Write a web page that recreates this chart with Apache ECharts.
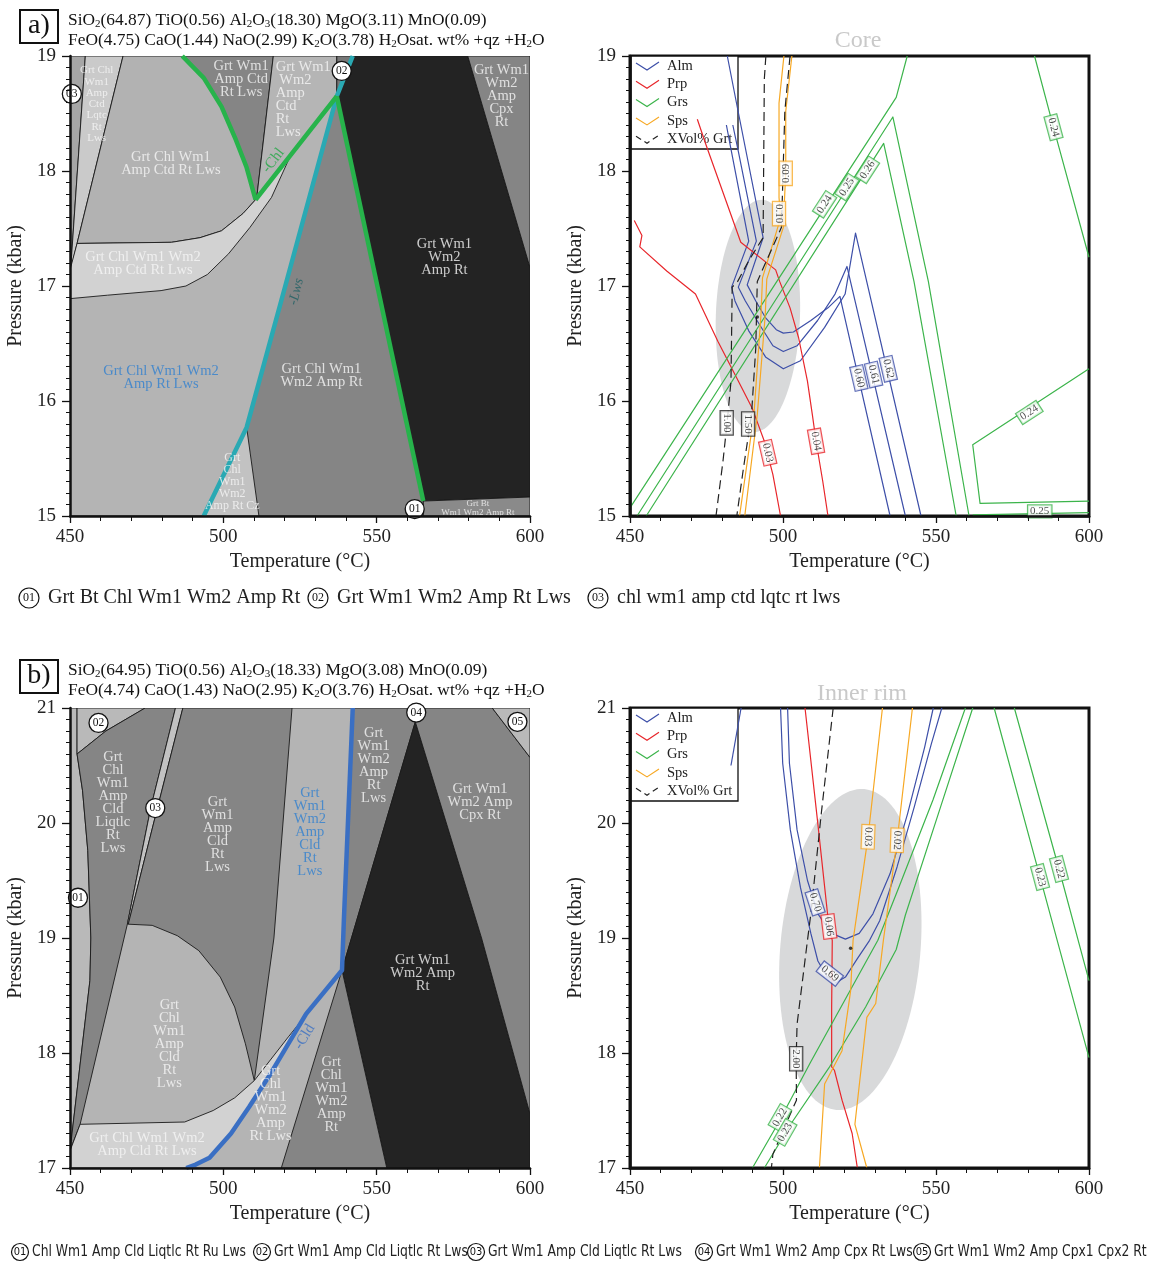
<!DOCTYPE html>
<html><head><meta charset="utf-8">
<script src="https://cdn.jsdelivr.net/npm/echarts@6/dist/echarts.min.js"></script>
<style>html,body{margin:0;padding:0;background:#fff}#c{width:1150px;height:1264px}</style>
</head><body><div id="c"></div>
<script>
// ================= DATA =================
const tempRange = [450, 600];
const presRanges = [[15, 19], [15, 19], [17, 21], [17, 21]];

// ---- Panel a) phase fields [T, P] ----
const fA_bg    = [[450,15],[600,15],[600,19],[450,19]];
const fA_03    = [[450,19],[455.0,19],[450.2,17.14],[450,17.14]];
const fA_lqtc  = [[455.0,19],[467.3,19],[452.3,17.37],[450.2,17.14]];
const fA_chlCtd= [[467.3,19],[486.6,19],[493.6,18.81],[499.4,18.56],[504.1,18.27],[507.6,18.03],[510.5,17.75],[506.4,17.63],[499.4,17.48],[492.4,17.42],[483.1,17.38],[452.3,17.37]];
const fA_wm1Ctd= [[486.6,19],[516.3,19],[510.9,17.77],[510.5,17.75],[507.6,18.03],[504.1,18.27],[499.4,18.56],[493.6,18.81]];
const fA_wm2Ctd= [[516.3,19],[537,19],[537,18.65],[522,18.14],[510.5,17.75],[510.9,17.77]];
const fA_light = [[450,17.14],[452.3,17.37],[483.1,17.38],[492.4,17.42],[499.4,17.48],[506.4,17.63],[510.5,17.75],[522,18.14],[515.7,17.77],[508.7,17.51],[501.7,17.28],[494.8,17.10],[487.8,17.0],[479.7,16.96],[462.2,16.92],[450,16.89]];
const fA_02    = [[537,19],[542.2,19],[537,18.65]];
const fA_amp   = [[537,18.65],[565.2,15.13],[565.2,15],[493.6,15],[507.6,15.77],[520.2,17.0]];
const fA_cz    = [[507.6,15.77],[511.6,15],[493.6,15]];
const fA_black = [[542.2,19],[579.7,19],[600,17.16],[600,15.165],[565.2,15.13],[537,18.65]];
const fA_cpx   = [[579.7,19],[600,19],[600,17.16]];
const fA_bt    = [[565.2,15.13],[600,15.165],[600,15],[565.2,15]];
const fieldsA = [fA_bg,fA_03,fA_lqtc,fA_chlCtd,fA_wm1Ctd,fA_wm2Ctd,fA_light,fA_02,fA_amp,fA_cz,fA_black,fA_cpx,fA_bt];

// ---- Panel a) reaction lines ----
const aGreenL   = [[486.6,19],[493.6,18.81],[499.4,18.56],[504.1,18.27],[507.6,18.03],[510.5,17.75]];
const aGreenChl = [[510.5,17.75],[522,18.14],[537,18.65]];
const aGreenR   = [[537,18.65],[565.2,15.13]];
const aCyan     = [[542.2,19],[537,18.65],[520.2,17.0],[507.6,15.77],[493.6,15.0]];

// ---- Panel a) field labels [T, P, text] ----
const labA = [
  [458.7,18.58,'Grt Chl\nWm1\nAmp\nCtd\nLqtc\nRt\nLws'],
  [505.8,18.80,'Grt Wm1\nAmp Ctd\nRt Lws'],
  [516.9,18.62,'Grt Wm1\n Wm2\nAmp\nCtd\nRt\nLws'],
  [482.9,18.06,'Grt Chl Wm1\nAmp Ctd Rt Lws'],
  [590.7,18.65,'Grt Wm1\nWm2\nAmp\nCpx\nRt'],
  [473.8,17.19,'Grt Chl Wm1 Wm2\nAmp Ctd Rt Lws'],
  [572.1,17.25,'Grt Wm1\nWm2\nAmp Rt'],
  [479.7,16.20,'Grt Chl Wm1 Wm2\nAmp Rt Lws'],
  [532.0,16.22,'Grt Chl Wm1\nWm2 Amp Rt'],
  [502.9,15.30,'Grt\nChl\nWm1\nWm2\nAmp Rt Cz'],
  [583.0,15.07,'Grt Bt\nWm1 Wm2 Amp Rt'],
  [516.3,18.09,'-Chl'],
  [523.8,16.95,'-Lws']
];
const circA = [[562.4,15.06,'01'],[538.6,18.87,'02'],[450.6,18.67,'03']];

// ---- Panel b) phase fields ----
const fB_bg    = [[450,17],[600,17],[600,21],[450,21]];
const fB_01    = [[450,21],[452.3,21],[452.3,20.6],[454.1,20.28],[455.8,19.76],[456.8,19.0],[456.5,18.63],[450,17.15]];
const fB_02    = [[452.3,21],[474.5,21],[461.7,20.8],[452.3,20.6]];
const fB_liq   = [[452.3,20.6],[461.7,20.8],[474.5,21],[484.4,21],[476.4,20.14],[468.7,19.12],[453.3,17.38],[450,17.15],[456.5,18.63],[456.8,19.0],[455.8,19.76],[454.1,20.28]];
const fB_03    = [[484.4,21],[486.8,21],[478.6,20.14],[469,19.12],[468.7,19.12],[476.4,20.14]];
const fB_wm1   = [[486.8,21],[522.4,21],[516.5,19.0],[510.1,17.76],[507.2,18.08],[503.7,18.40],[499.0,18.66],[492.0,18.89],[485.0,19.02],[476.8,19.11],[469,19.12],[478.6,20.14]];
const fB_light = [[450,17.15],[453.3,17.38],[487.4,17.40],[496.7,17.5],[503.7,17.61],[510.1,17.76],[521.2,18.14],[538.7,18.72],[527.0,18.34],[515.4,17.82],[508.4,17.53],[502.5,17.30],[495.5,17.09],[487.9,17.0],[450,17]];
const fB_lws   = [[542.2,21],[562.6,21],[562.6,20.88],[538.7,18.72],[539.3,19.15]];
const fB_black = [[562.6,20.88],[584.2,19.0],[600,17.47],[600,17],[553.3,17],[538.7,18.72]];
const fB_amp   = [[538.7,18.72],[553.3,17],[518.9,17]];
const fB_cpx   = [[562.6,21],[587.7,21],[600,20.57],[600,17.47],[584.2,19.0],[562.6,20.88]];
const fB_05    = [[587.7,21],[600,21],[600,20.57]];
const fieldsB = [fB_bg,fB_01,fB_02,fB_liq,fB_03,fB_wm1,fB_light,fB_lws,fB_black,fB_amp,fB_cpx,fB_05];

const bBlue = [[542.2,21],[539.3,19.15],[538.7,18.72],[527.0,18.34],[515.4,17.82],[508.4,17.53],[502.5,17.30],[495.5,17.09],[491,17.03],[487.9,17.0]];

const labB = [
  [464.0,20.18,'Grt\nChl\nWm1\nAmp\nCld\nLiqtlc\nRt\nLws'],
  [498.1,19.90,'Grt\nWm1\nAmp\nCld\nRt\nLws'],
  [528.2,19.92,'Grt\nWm1\nWm2\nAmp\nCld\nRt\nLws'],
  [549.0,20.50,'Grt\nWm1\nWm2\nAmp\nRt\nLws'],
  [583.7,20.18,'Grt Wm1\nWm2 Amp\nCpx Rt'],
  [565.0,18.69,'Grt Wm1\nWm2 Amp\nRt'],
  [482.4,18.08,'Grt\nChl\nWm1\nAmp\nCld\nRt\nLws'],
  [475.1,17.20,'Grt Chl Wm1 Wm2\nAmp Cld Rt Lws'],
  [515.4,17.56,'Grt\nChl\nWm1\nWm2\nAmp\nRt Lws'],
  [535.2,17.64,'Grt\nChl\nWm1\nWm2\nAmp\nRt'],
  [526.5,18.14,'-Cld']
];
const circB = [[452.6,19.35,'01'],[459.3,20.87,'02'],[477.8,20.13,'03'],[562.9,20.96,'04'],[595.9,20.88,'05']];

// ---- Core isopleths ----
const almC060 = [[481.8,19],[485.1,18.55],[493.5,17.42],[488.3,17.01],[491.1,16.87],[494.4,16.72],[497.8,16.62],[500.1,16.59],[503.4,16.60],[509.1,16.70],[514.7,16.81],[518.6,16.91],[535.0,15.0]];
const almC061 = [[483.6,18.4],[485.4,18.17],[491.3,17.39],[485.4,16.99],[487.7,16.87],[492.2,16.67],[496.7,16.48],[500.1,16.43],[504.6,16.48],[511.3,16.70],[517.0,16.93],[520.9,17.17],[540.0,15.0]];
const almC062 = [[481.5,18.4],[483.0,18.19],[488.8,17.39],[483.2,16.99],[484.3,16.87],[488.8,16.61],[494.4,16.38],[500.1,16.28],[505.7,16.35],[513.6,16.64],[520.3,16.93],[523.7,17.46],[545.1,15.0]];
const prpC003 = [[451.4,17.57],[453.9,17.44],[453.2,17.34],[462.0,17.13],[471.4,16.93],[478.7,16.52],[484.3,16.23],[489.9,15.94],[493.9,15.65],[496.7,15.36],[499.2,15.0]];
const prpC004 = [[472.0,18.45],[474.8,18.23],[486.2,17.38],[497.6,17.14],[498.9,17.04],[502.3,16.81],[505.1,16.55],[508.0,16.17],[509.6,15.88],[510.8,15.65],[513.0,15.30],[514.7,15.0]];
const grsC024 = [[450,15.07],[537.0,18.64],[540.6,19]];
const grsC025 = [[452.3,15.0],[535.9,18.47],[547.5,17.04],[560.8,15.0]];
const grsC026 = [[455.3,15.0],[532.9,18.24],[542.8,17.04],[556.6,15.0]];
const grsC024b = [[582.2,19],[588.4,18.38],[600,17.25]];
const grsC024c = [[600,16.28],[562.0,15.62],[564.4,15.11],[600,15.13]];
const grsC025b = [[562.0,15.01],[600,15.03]];
const spsC010 = [[500.3,19],[498.7,18.59],[498.7,17.77],[499.2,17.59],[493.3,17.07],[492.8,16.75],[490.5,15.88],[485.8,15.0]];
const spsC009 = [[502.9,19],[500.9,18.52],[500.9,18.0],[500.1,17.51],[494.7,17.06],[494.2,16.75],[491.6,15.88],[487.5,15.0]];
const xvC100 = [[494.4,19],[493.9,18.8],[493.5,17.42],[488.8,17.22],[485.2,17.04],[483.4,16.99],[483.0,16.17],[481.8,15.83],[480.4,15.48],[478.1,15.0]];
const xvC150 = [[502.3,19],[500.6,18.52],[499.5,17.51],[491.6,17.04],[491.1,16.46],[489.7,15.88],[487.1,15.42],[484.9,15.0]];
const ellCore = [[491.8,16.74,13.75,1.01,2]];   // centre T, centre P, half-width T, half-height P, tilt deg
const dotCore = [[491.6,16.73]];
const isoLabCore = [
  [500.9,17.98,'0.09'],[498.7,17.63,'0.10'],
  [513.6,17.71,'0.24'],[520.9,17.86,'0.25'],[527.6,18.01,'0.26'],
  [588.4,18.38,'0.24'],
  [481.6,15.81,'1.00'],[488.6,15.80,'1.50'],
  [495.0,15.55,'0.03'],[510.8,15.65,'0.04'],
  [524.8,16.20,'0.60'],[529.6,16.23,'0.61'],[534.4,16.28,'0.62'],
  [580.5,15.90,'0.24'],[583.9,15.04,'0.25']
];

// ---- Inner rim isopleths ----
const almR069 = [[499.2,21],[499.9,20.52],[502.4,19.94],[505.7,19.44],[509.1,19.04],[511.4,18.80],[514.5,18.66],[517.3,18.61],[520.4,18.66],[524.3,18.82],[528.3,18.98],[531.6,19.15],[537.3,19.62],[542.9,20.14],[548.5,20.69],[551.9,21]];
const almR070 = [[501.5,21],[502.1,20.52],[504.6,19.94],[508.0,19.50],[511.4,19.21],[515.9,19.04],[520.4,18.99],[524.9,19.04],[529.4,19.21],[535.0,19.56],[540.7,20.08],[546.3,20.66],[549.1,21]];
const almRx   = [[483.0,20.5],[486.3,21]];
const prpR006 = [[507.2,21],[511.4,19.99],[515.0,19.10],[516.1,18.98],[515.9,18.40],[515.9,17.88],[516.8,17.85],[519.3,17.59],[522.6,17.30],[524.3,17.0]];
const grsR022 = [[490.0,17.0],[498.0,17.37],[509.0,17.92],[520.0,18.45],[531.0,18.98],[538.0,19.45],[549.0,20.20],[559.6,21]];
const grsR023 = [[493.9,17.0],[503.0,17.40],[515.0,17.87],[527.0,18.40],[537.0,18.90],[540.0,19.20],[551.5,20.14],[562.0,21]];
const grsR023b = [[569.0,21],[584.0,19.53],[600,17.96]];
const grsR022b = [[575.6,21],[590.2,19.60],[600,18.63]];
const spsR003 = [[532.5,21],[527.8,19.88],[522.9,18.98],[522.1,18.54],[519.3,18.02],[513.6,17.73],[511.9,17.0]];
const spsR002 = [[542.3,21],[537.3,19.85],[532.8,18.98],[530.3,18.43],[527.4,18.31],[523.5,17.38],[527.4,17.0]];
const xvR200 = [[516.4,21],[512.5,20.08],[509.1,19.21],[508.0,18.98],[504.6,18.25],[504.3,17.95],[504.4,17.59],[502.4,17.47],[496.7,17.12],[496.2,17.0]];
const ellRim = [[522.0,18.9,22.9,1.40,5]];
const dotRim = [[522.1,18.91]];
const isoLabRim = [
  [510.5,19.31,'0.70'],[515.0,19.10,'0.06'],[515.3,18.69,'0.69'],
  [527.8,19.88,'0.03'],[537.3,19.85,'0.02'],[504.3,17.95,'2.00'],
  [499.0,17.44,'0.22'],[500.7,17.31,'0.23'],
  [584.0,19.53,'0.23'],[590.2,19.60,'0.22']
];

const legendNames = ['Alm','Prp','Grs','Sps','XVol% Grt'];
const footA = ['Grt Bt Chl Wm1 Wm2 Amp Rt','Grt Wm1 Wm2 Amp Rt Lws','chl wm1 amp ctd lqtc rt lws'];
const footB = ['Chl Wm1 Amp Cld Liqtlc Rt Ru Lws','Grt Wm1 Amp Cld Liqtlc Rt Lws','Grt Wm1 Amp Cld Liqtlc Rt Lws','Grt Wm1 Wm2 Amp Cpx Rt Lws','Grt Wm1 Wm2 Amp Cpx1 Cpx2 Rt'];
const footNums = ['01','02','03','04','05'];

// ================= STYLE =================
const SERIF = '"Liberation Serif","Times New Roman",serif';
const NARROW = '"Liberation Sans Narrow","DejaVu Sans Condensed",sans-serif';
const C = {alm:'#3d4fa8', prp:'#e8262b', grs:'#3cb44b', sps:'#f7a823', xv:'#222', black:'#232323', dark:'#858585', mid:'#b3b3b3', light:'#d2d2d2'};
const fillsA = ['#b4b4b4','#a6a6a6','#cacaca','#b2b2b2',C.dark,'#b5b5b5',C.light,'#777777',C.dark,'#c2c2c2',C.black,C.dark,'#8a8a8a'];
const fillsB = ['#b4b4b4','#b9b9b9','#b9b9b9',C.dark,'#c2c2c2',C.dark,C.light,C.dark,C.black,C.dark,C.dark,'#b9b9b9'];
const G = [
  {left:70, top:56, width:460, height:460},
  {left:630, top:56, width:459, height:460},
  {left:70, top:708, width:460, height:460},
  {left:630, top:708, width:459, height:460}
];
const W = {color:'#f6f6f6', fontSize:14.5, lineHeight:13, fontFamily:SERIF};
const labAStyle = [
  {fontSize:11, lineHeight:11.3},{},{position:'right', distance:0, align:'left'},{},{},{},{},{color:'#2f7fcf'},{},{fontSize:12, lineHeight:12},{fontSize:9, lineHeight:8.5},
  {color:'#22a845', rotate:52, fontSize:15},{color:'#1b5f63', rotate:76, fontSize:14, fontStyle:'italic'}
];
const labBStyle = [{},{},{color:'#2f7fcf'},{},{},{},{},{},{},{},{color:'#3a6fc3', rotate:59, fontSize:15}];
const isoCoreStyle = [
  [C.sps,90],[C.sps,-90],[C.grs,57],[C.grs,57],[C.grs,57],[C.grs,-75],[C.xv,-90],[C.xv,-90],
  [C.prp,-77],[C.prp,-80],[C.alm,-77],[C.alm,-77],[C.alm,-77],[C.grs,33],[C.grs,0]
];
const isoRimStyle = [[C.alm,-72],[C.prp,-83],[C.alm,-38],[C.sps,-92],[C.sps,-92],[C.xv,-90],[C.grs,60],[C.grs,60],[C.grs,-75],[C.grs,-75]];

// ================= BUILD =================
const series = [];
function polySeries(gi, polys, fills){
  series.push({type:'custom', xAxisIndex:gi, yAxisIndex:gi, z:1, silent:true, clip:true,
    data: polys.map((p,i)=>[p[0][0], p[0][1], i]), encode:{x:0, y:1},
    renderItem:(params, api)=>{ const i = params.dataIndex;
      return {type:'polygon', shape:{points: polys[i].map(pt=>api.coord(pt))}, style:{fill:fills[i], stroke:'#1a1a1a', lineWidth:0.9}}; }
  });
}
function line(gi, data, color, width, dash, z){
  series.push({type:'line', xAxisIndex:gi, yAxisIndex:gi, data:data, symbol:'none', silent:true, clip:true,
    lineStyle:{color:color, width:width, type: dash || 'solid', join:'round'}, z: z || 3});
}
function textSeries(gi, items, styles){
  series.push({type:'scatter', xAxisIndex:gi, yAxisIndex:gi, symbolSize:1, itemStyle:{color:'rgba(0,0,0,0)'}, z:6, silent:true, clip:false,
    data: items.map((d,i)=>({value:[d[0],d[1]], label:Object.assign({show:true, formatter:d[2], position:'inside'}, W, styles[i] || {})}))});
}
function isoLabels(gi, items, styles){
  series.push({type:'scatter', xAxisIndex:gi, yAxisIndex:gi, symbolSize:1, itemStyle:{color:'rgba(0,0,0,0)'}, z:8, silent:true, clip:false,
    data: items.map((d,i)=>({value:[d[0],d[1]], label:{show:true, formatter:d[2], position:'inside', fontSize:11, fontFamily:SERIF, color:'#222',
      backgroundColor:'#fff', borderColor:styles[i][0], borderWidth:1.2, padding:[1,2,0,2], rotate:styles[i][1]}}))});
}
function circSeries(gi, items){
  series.push({type:'scatter', xAxisIndex:gi, yAxisIndex:gi, symbolSize:19, z:7, silent:true, clip:false,
    itemStyle:{color:'#fff', borderColor:'#111', borderWidth:1.3, opacity:1},
    label:{show:true, position:'inside', formatter:p=>p.data[2], fontSize:11.5, fontFamily:SERIF, color:'#111'}, data:items});
}
function ellipseSeries(gi, ell){
  series.push({type:'custom', xAxisIndex:gi, yAxisIndex:gi, z:2, silent:true, data:ell,
    renderItem:(params, api)=>{
      const c = api.coord([api.value(0), api.value(1)]);
      const s = api.size([api.value(2), api.value(3)]);
      const a = api.value(4) * Math.PI / 180; const pts = [];
      for (let k = 0; k < 120; k++) { const t = k / 120 * 2 * Math.PI; const x = s[0] * Math.cos(t), y = s[1] * Math.sin(t);
        pts.push([c[0] + x * Math.cos(a) - y * Math.sin(a), c[1] + x * Math.sin(a) + y * Math.cos(a)]); }
      return {type:'polygon', shape:{points:pts}, style:{fill:'#d8d9da'}};
    }});
}
function dots(gi, d){ series.push({type:'scatter', xAxisIndex:gi, yAxisIndex:gi, symbolSize:3.5, itemStyle:{color:'#111'}, z:7, silent:true, data:d}); }

// Panel a
polySeries(0, fieldsA, fillsA);
line(0, aCyan, '#2aa9b3', 4.5);
line(0, aGreenL, '#27b34b', 4.5, null, 4);
line(0, aGreenChl, '#27b34b', 4.5, null, 4);
line(0, aGreenR, '#27b34b', 4.5, null, 4);
textSeries(0, labA, labAStyle);
circSeries(0, circA);
// Core
ellipseSeries(1, ellCore);
[almC060, almC061, almC062].forEach(d=>line(1, d, C.alm, 1.2));
[prpC003, prpC004].forEach(d=>line(1, d, C.prp, 1.2));
[grsC024, grsC025, grsC026, grsC024b, grsC024c, grsC025b].forEach(d=>line(1, d, C.grs, 1.2));
[spsC010, spsC009].forEach(d=>line(1, d, C.sps, 1.2));
[xvC100, xvC150].forEach(d=>line(1, d, C.xv, 1.2, [9,5]));
dots(1, dotCore);
isoLabels(1, isoLabCore, isoCoreStyle);
// Panel b
polySeries(2, fieldsB, fillsB);
line(2, bBlue, '#3a6fc3', 4.5, null, 4);
textSeries(2, labB, labBStyle);
circSeries(2, circB);
// Inner rim
ellipseSeries(3, ellRim);
[almR069, almR070, almRx].forEach(d=>line(3, d, C.alm, 1.2));
line(3, prpR006, C.prp, 1.2);
[grsR022, grsR023, grsR023b, grsR022b].forEach(d=>line(3, d, C.grs, 1.2));
[spsR003, spsR002].forEach(d=>line(3, d, C.sps, 1.2));
line(3, xvR200, C.xv, 1.2, [9,5]);
dots(3, dotRim);
isoLabels(3, isoLabRim, isoRimStyle);

// ---- graphics ----
const legendColors = [C.alm, C.prp, C.grs, C.sps, C.xv];
function legendGroup(x0, y0){
  const ch = [{type:'rect', shape:{x:0, y:0, width:107, height:93}, style:{fill:'#fff', stroke:'#111', lineWidth:1.3}}];
  legendNames.forEach((n,i)=>{
    const y = 10 + i * 18.3;
    ch.push({type:'polyline', shape:{points:[[5,y-3],[16,y+4],[28,y-4]]}, style:{stroke:legendColors[i], lineWidth:1.2, fill:null, lineDash: i === 4 ? [6,4] : null}});
    ch.push({type:'text', style:{text:n, x:36, y:y, fill:'#222', font:'14.5px ' + SERIF, verticalAlign:'middle'}});
  });
  return {type:'group', x:x0, y:y0, z:50, children:ch};
}
const richH = {t:{fontSize:17.4, fontFamily:SERIF, lineHeight:20, fill:'#111'}, s:{fontSize:11, fontFamily:SERIF, lineHeight:9, verticalAlign:'bottom', fill:'#111'}};
function header(y, l1, l2){
  return [
    {type:'text', z:50, style:{text:l1, x:68, y:y, rich:richH, verticalAlign:'top'}},
    {type:'text', z:50, style:{text:l2, x:68, y:y+20, rich:richH, verticalAlign:'top'}}
  ];
}
function tagBox(y, t){
  return [{type:'rect', z:50, shape:{x:20, y:y, width:38, height:33}, style:{fill:'#fff', stroke:'#111', lineWidth:2}},
          {type:'text', z:51, style:{text:t, x:39, y:y+16, align:'center', verticalAlign:'middle', font:'28px ' + SERIF, fill:'#111'}}];
}
function footCircle(x, y, r, n, font){
  return [{type:'circle', z:50, shape:{cx:x, cy:y, r:r}, style:{fill:'#fff', stroke:'#111', lineWidth:1.2}},
          {type:'text', z:51, style:{text:n, x:x, y:y, align:'center', verticalAlign:'middle', font:font, fill:'#111'}}];
}
let gr = [];
gr = gr.concat(tagBox(10, 'a)'), tagBox(660, 'b)'));
gr = gr.concat(header(10, '{t|SiO}{s|2}{t|(64.87) TiO(0.56) Al}{s|2}{t|O}{s|3}{t|(18.30) MgO(3.11) MnO(0.09)}',
  '{t|FeO(4.75) CaO(1.44) NaO(2.99) K}{s|2}{t|O(3.78) H}{s|2}{t|Osat. wt% +qz +H}{s|2}{t|O}'));
gr = gr.concat(header(660, '{t|SiO}{s|2}{t|(64.95) TiO(0.56) Al}{s|2}{t|O}{s|3}{t|(18.33) MgO(3.08) MnO(0.09)}',
  '{t|FeO(4.74) CaO(1.43) NaO(2.95) K}{s|2}{t|O(3.76) H}{s|2}{t|Osat. wt% +qz +H}{s|2}{t|O}'));
gr.push({type:'text', z:50, style:{text:'Core', x:858, y:41, align:'center', verticalAlign:'middle', font:'24px ' + SERIF, fill:'#c9c9c9'}});
gr.push({type:'text', z:50, style:{text:'Inner rim', x:862, y:694, align:'center', verticalAlign:'middle', font:'24px ' + SERIF, fill:'#c9c9c9'}});
gr.push(legendGroup(631, 56));
gr.push(legendGroup(631, 708));
const fAx = [29, 318, 598];
footA.forEach((t,i)=>{ gr = gr.concat(footCircle(fAx[i], 598, 10, footNums[i], '12px ' + SERIF));
  gr.push({type:'text', z:50, style:{text:t, x:fAx[i] + 19, y:598, verticalAlign:'middle', font:'20px ' + SERIF, fill:'#222'}}); });
// bottom footnote: condensed text, squeezed so the first entry spans its slot
const FB_FONT = '15px ' + NARROW;
const mctx = document.createElement('canvas').getContext('2d');
mctx.font = FB_FONT;
const fbScale = Math.min(1, 214 / mctx.measureText(footB[0]).width);
const fBx = [20, 262, 476, 704, 922];
footB.forEach((t,i)=>{ gr = gr.concat(footCircle(fBx[i], 1252, 8.5, footNums[i], '11px ' + NARROW));
  gr.push({type:'text', z:50, x:fBx[i] + 12, y:1252, scaleX:fbScale, style:{text:t, x:0, y:0, verticalAlign:'middle', font:FB_FONT, fill:'#222'}}); });

const option = {
  animation:false, backgroundColor:'#fff',
  grid: G.map((g,i)=>Object.assign({show: i % 2 === 1, borderColor:'#111', borderWidth:3, backgroundColor:'#fff'}, g)),
  xAxis: G.map((g,i)=>({type:'value', gridIndex:i, min:tempRange[0], max:tempRange[1], interval:50, z:10,
    name:'Temperature (°C)', nameLocation:'middle', nameGap:36, nameTextStyle:{fontSize:20, fontFamily:SERIF, color:'#222'},
    axisLine:{onZero:false, lineStyle:{color:'#111', width:2.5}}, axisTick:{length:7, lineStyle:{color:'#111', width:1.3}},
    minorTick:{show:true, splitNumber:5, length:5, lineStyle:{color:'#111', width:1}},
    axisLabel:{fontSize:19, fontFamily:SERIF, color:'#222', margin:12}, splitLine:{show:false}, minorSplitLine:{show:false}})),
  yAxis: G.map((g,i)=>({type:'value', gridIndex:i, min:presRanges[i][0], max:presRanges[i][1], interval:1, z:10,
    name:'Pressure (kbar)', nameLocation:'middle', nameGap:44, nameTextStyle:{fontSize:20, fontFamily:SERIF, color:'#222'},
    axisLine:{onZero:false, lineStyle:{color:'#111', width:2.5}}, axisTick:{length:8, lineStyle:{color:'#111', width:1.3}},
    minorTick:{show:true, splitNumber:10, length:4, lineStyle:{color:'#111', width:1}},
    axisLabel:{fontSize:19, fontFamily:SERIF, color:'#222', margin:14}, splitLine:{show:false}, minorSplitLine:{show:false}})),
  series: series,
  graphic: gr
};
echarts.init(document.getElementById('c'), null, {renderer:'canvas'}).setOption(option);
</script></body></html>
